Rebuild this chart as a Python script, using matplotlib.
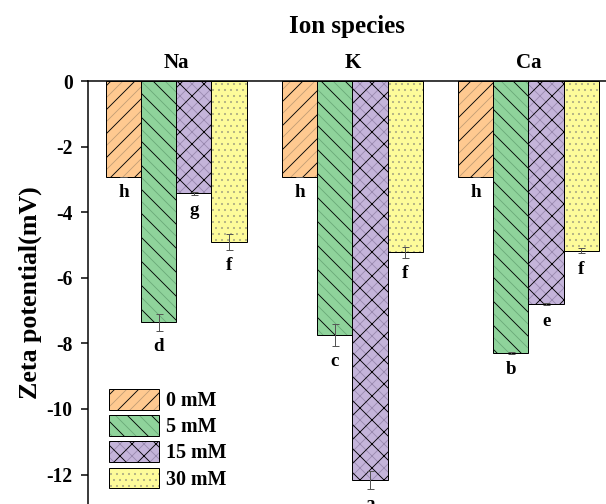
import numpy as np
import matplotlib.pyplot as plt
from matplotlib.legend_handler import HandlerTuple

plt.rcParams['font.family'] = 'Liberation Serif'
plt.rcParams['font.weight'] = 'bold'
plt.rcParams['axes.labelweight'] = 'bold'
plt.rcParams['axes.unicode_minus'] = False
plt.rcParams['hatch.linewidth'] = 0.8

ions = ['Na', 'K', 'Ca']
conc = ['0 mM', '5 mM', '15 mM', '30 mM']

# zeta potential (mV) per concentration, one value per ion
zeta_0 = [-2.91, -2.91, -2.91]
zeta_5 = [-7.36, -7.75, -8.29]
zeta_15 = [-3.42, -12.17, -6.81]
zeta_30 = [-4.90, -5.22, -5.17]

err_0 = [0.0, 0.0, 0.0]
err_5 = [0.25, 0.33, 0.03]
err_15 = [0.05, 0.27, 0.03]
err_30 = [0.25, 0.17, 0.08]

letters_0 = ['h', 'h', 'h']
letters_5 = ['d', 'c', 'b']
letters_15 = ['g', 'a', 'e']
letters_30 = ['f', 'f', 'f']

series = [zeta_0, zeta_5, zeta_15, zeta_30]
errors = [err_0, err_5, err_15, err_30]
letters = [letters_0, letters_5, letters_15, letters_30]

fills = ['#FFC990', '#8FD39B', '#C4B4DA', '#FDFB9A']
light = ['#C09C74', '#6AA877', '#9888AE', '#A9A982']
hatch_light = ['//', '\\\\', 'xx', '..']
hatch_dark = ['/', '\\', 'x', '']

fig = plt.figure(figsize=(606/72, 504/72), dpi=72)
ax = fig.add_axes([88.1/606, 0, 1 - 88.1/606, (504 - 81.3)/504])

centers = np.arange(len(ions)) * 5
offsets = [-1.5, -0.5, 0.5, 1.5]
handles = []
for i in range(4):
    x = centers + offsets[i]
    base = ax.bar(x, series[i], width=1, color=fills[i], edgecolor=light[i],
                  hatch=hatch_light[i], linewidth=0, zorder=2)
    over = ax.bar(x, series[i], width=1, facecolor='none', edgecolor='black',
                  hatch=hatch_dark[i], linewidth=1, zorder=3)
    ax.errorbar(x, series[i], yerr=errors[i], fmt='none', ecolor='#555555',
                elinewidth=1, capsize=3.5, capthick=1, zorder=4)
    handles.append((base[0], over[0]))
    for xi, v, e, lab in zip(x, series[i], errors[i], letters[i]):
        ax.text(xi, v - e - 0.48, lab, ha='center', va='center', fontsize=19,
                fontweight='bold', zorder=5)

ax.set_xlim(-2.5, 12.2)
ax.set_ylim(-12.9, 0)

for s in ['right', 'bottom']:
    ax.spines[s].set_visible(False)
for s in ['left', 'top']:
    ax.spines[s].set_linewidth(1.5)

ax.xaxis.tick_top()
ax.xaxis.set_label_position('top')
ax.set_xticks(centers)
ax.set_xticklabels(ions, fontsize=21)
ax.tick_params(axis='x', length=0, pad=8)
ax.set_xlabel('Ion species', fontsize=25, labelpad=20)

ax.set_yticks(np.arange(0, -13, -2))
ax.tick_params(axis='y', direction='out', length=7.5, width=1.5, labelsize=19.5, pad=8)
ax.set_ylabel('Zeta potential(mV)', fontsize=26, labelpad=4)

fig.legend(handles, conc, handler_map={tuple: HandlerTuple(ndivide=1)},
           loc='upper left', bbox_to_anchor=(109/606, 1 - 389/504),
           frameon=False, fontsize=20, borderpad=0, borderaxespad=0,
           handlelength=2.5, handleheight=1.2, labelspacing=0.21,
           handletextpad=0.35)

fig.savefig('out.png', dpi=72)
